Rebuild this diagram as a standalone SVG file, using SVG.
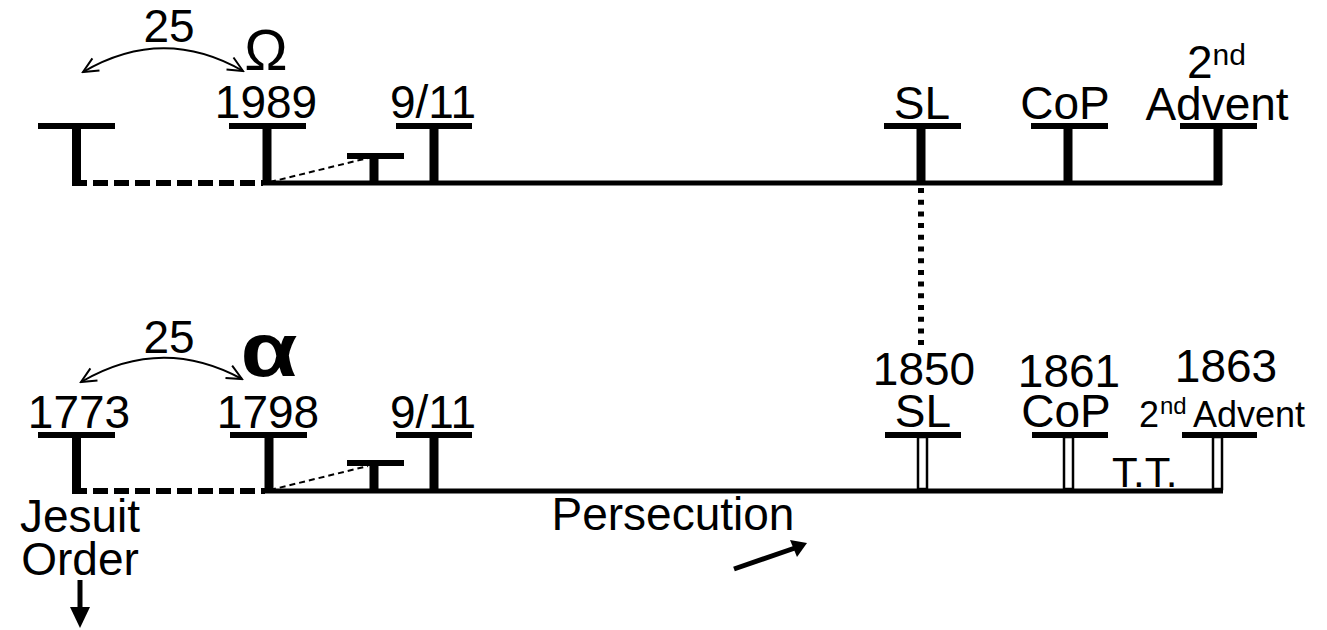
<svg xmlns="http://www.w3.org/2000/svg" width="1327" height="630" viewBox="0 0 1327 630">
<style>
text{font-family:"Liberation Sans",Arial,sans-serif;fill:#000}
.big{font-size:46px}
.mid{font-size:36px}
.bar{stroke:#000;stroke-width:6;fill:none}
.stem{stroke:#000;stroke-width:9;fill:none}
.dstem{fill:#fff;stroke:#000;stroke-width:2.5}
.main{stroke:#000;stroke-width:5;fill:none}
.dash{stroke:#000;stroke-width:6;stroke-dasharray:15 6;fill:none}
.thin{stroke:#000;stroke-width:2;stroke-dasharray:6 4;fill:none}
.dot{stroke:#000;stroke-width:6;stroke-dasharray:5 6.7;fill:none}
.curve{stroke:#000;stroke-width:2;fill:none;marker-start:url(#open);marker-end:url(#open)}
.arr{stroke:#000;stroke-width:5;fill:none}
</style>
<defs>
<marker id="open" markerUnits="userSpaceOnUse" viewBox="-17 -9 19 18" refX="0" refY="0" markerWidth="19" markerHeight="18" orient="auto-start-reverse">
<path d="M-15,-7 L0,0 L-15,7" fill="none" stroke="#000" stroke-width="2"/>
</marker>
</defs>

<g id="connectors">
<line class="main" x1="263" y1="183" x2="1222" y2="183"/>
<line class="dash" x1="72" y1="183" x2="263" y2="183"/>
<line class="thin" x1="270" y1="182" x2="368" y2="158"/>
<line class="main" x1="265" y1="491" x2="1223" y2="491"/>
<line class="dash" x1="72" y1="491" x2="265" y2="491"/>
<line class="thin" x1="270" y1="490" x2="368" y2="466"/>
<line class="dot" x1="921" y1="188" x2="921" y2="345"/>
<path class="curve" d="M83,72 Q163,25 243,71"/>
<path class="curve" d="M81,382 Q161,335 242,379"/>
<line class="arr" x1="80" y1="580" x2="80" y2="610"/>
<polygon points="70,607 90,607 80,628" fill="#000"/>
<line class="arr" x1="734" y1="569" x2="795" y2="548"/>
<polygon points="807,543 790,540 797,557" fill="#000"/>
</g>

<g id="top-start">
<line class="bar" x1="38" y1="126" x2="115" y2="126"/>
<line class="stem" x1="76.5" y1="126" x2="76.5" y2="186"/>
<text class="big" x="169" y="42" text-anchor="middle">25</text>
</g>
<g id="top-1989">
<line class="bar" x1="229" y1="126" x2="306" y2="126"/>
<line class="stem" x1="267" y1="126" x2="267" y2="185"/>
<text class="big" x="266" y="118" text-anchor="middle">1989</text>
<text x="266" y="70" text-anchor="middle" style="font-size:58px">Ω</text>
</g>
<g id="top-small">
<line class="bar" x1="347" y1="156" x2="404" y2="156"/>
<line class="stem" x1="374" y1="156" x2="374" y2="184"/>
</g>
<g id="top-911">
<line class="bar" x1="396" y1="126" x2="472" y2="126"/>
<line class="stem" x1="434" y1="126" x2="434" y2="184"/>
<text class="big" x="433" y="118" text-anchor="middle">9/11</text>
</g>
<g id="top-sl">
<line class="bar" x1="884" y1="126" x2="961" y2="126"/>
<line class="stem" x1="921" y1="126" x2="921" y2="185"/>
<text class="big" x="922" y="119" text-anchor="middle">SL</text>
</g>
<g id="top-cop">
<line class="bar" x1="1031" y1="126" x2="1108" y2="126"/>
<line class="stem" x1="1068" y1="126" x2="1068" y2="184"/>
<text class="big" x="1065" y="119" text-anchor="middle">CoP</text>
</g>
<g id="top-advent">
<line class="bar" x1="1180" y1="126" x2="1257" y2="126"/>
<line class="stem" x1="1218" y1="126" x2="1218" y2="185"/>
<text class="big" x="1187" y="78">2<tspan dy="-13" style="font-size:30px">nd</tspan><tspan x="1217" y="120" text-anchor="middle">Advent</tspan></text>
</g>

<g id="bot-1773">
<line class="bar" x1="38" y1="435" x2="115" y2="435"/>
<line class="stem" x1="76.5" y1="435" x2="76.5" y2="494"/>
<text class="big" x="79" y="428" text-anchor="middle">1773</text>
<text class="big" x="169" y="353" text-anchor="middle">25</text>
<text class="big" x="80" y="532" text-anchor="middle">Jesuit<tspan x="80" y="575">Order</tspan></text>
</g>
<g id="bot-1798">
<line class="bar" x1="230" y1="435" x2="307" y2="435"/>
<line class="stem" x1="269" y1="435" x2="269" y2="493"/>
<text class="big" x="268" y="428" text-anchor="middle">1798</text>
<text transform="translate(269,376) scale(1.22,1)" x="0" y="0" text-anchor="middle" style="font-size:76px;font-weight:bold">α</text>
</g>
<g id="bot-small">
<line class="bar" x1="347" y1="463" x2="404" y2="463"/>
<line class="stem" x1="374" y1="463" x2="374" y2="492"/>
</g>
<g id="bot-911">
<line class="bar" x1="396" y1="435" x2="472" y2="435"/>
<line class="stem" x1="434" y1="435" x2="434" y2="492"/>
<text class="big" x="433" y="428" text-anchor="middle">9/11</text>
</g>
<g id="bot-sl">
<line class="bar" x1="885" y1="435" x2="961" y2="435"/>
<rect class="dstem" x="918" y="437" width="9" height="52"/>
<text class="big" x="924" y="385" text-anchor="middle">1850<tspan x="923" y="427">SL</tspan></text>
</g>
<g id="bot-cop">
<line class="bar" x1="1032" y1="435" x2="1108" y2="435"/>
<rect class="dstem" x="1064" y="437" width="9" height="52"/>
<text class="big" x="1069" y="387" text-anchor="middle">1861<tspan x="1066" y="427">CoP</tspan></text>
</g>
<g id="bot-advent">
<line class="bar" x1="1182" y1="435" x2="1257" y2="435"/>
<rect class="dstem" x="1213" y="437" width="9" height="52"/>
<text class="big" x="1226" y="382" text-anchor="middle">1863</text>
<text class="mid" x="1139" y="427">2<tspan x="1160" y="414" style="font-size:24px">nd</tspan><tspan x="1193" y="427">Advent</tspan></text>
<text style="font-size:42px" x="1112" y="487">T.T.</text>
</g>
<g id="persecution">
<text class="big" x="673" y="530" text-anchor="middle">Persecution</text>
</g>
</svg>
